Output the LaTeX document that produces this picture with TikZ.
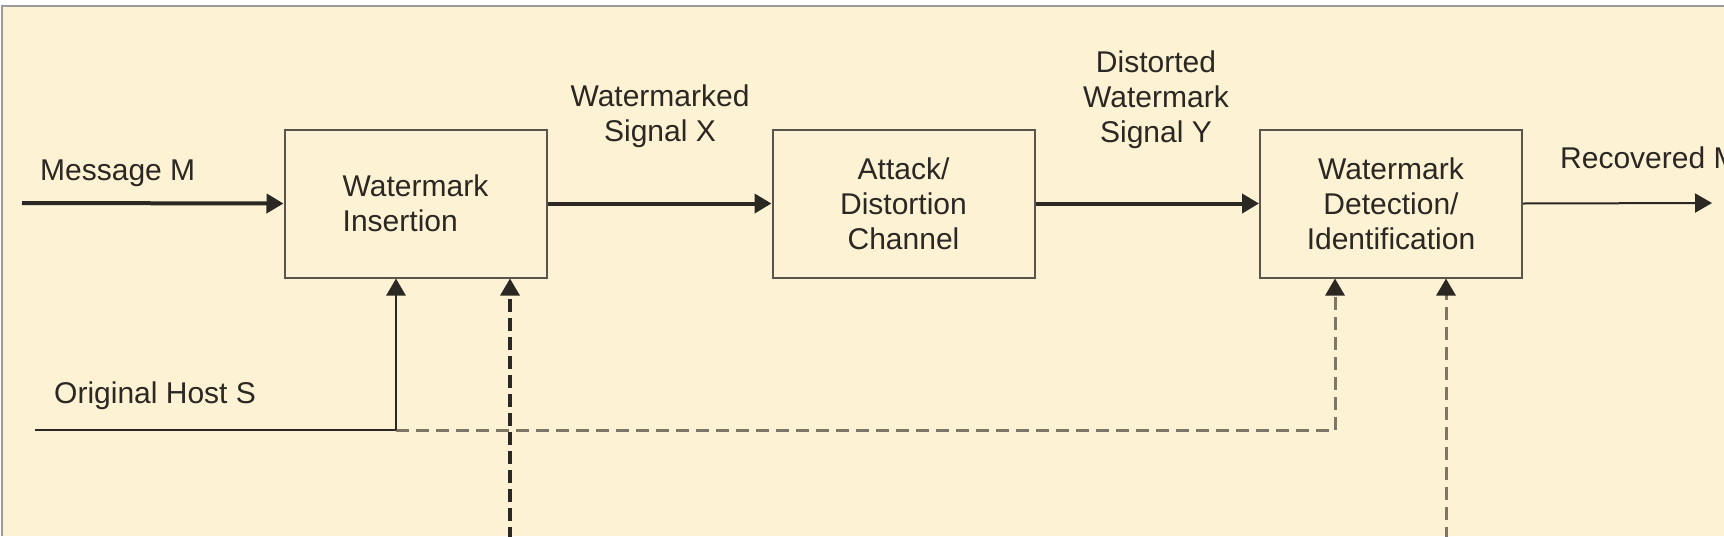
\documentclass[tikz,border=0pt]{standalone}
\usepackage{fontspec}
\setmainfont{Liberation Sans}
\usetikzlibrary{arrows.meta}
\definecolor{cream}{HTML}{FDF2D4}
\definecolor{ink}{HTML}{2B2722}
\definecolor{boxline}{HTML}{5A554C}
\definecolor{dgrey}{HTML}{7E7766}
\definecolor{frame}{HTML}{9A9A9A}
\tikzset{
  tip/.style={-{Triangle[length=17pt,width=19pt,color=ink]}},
  block/.style={draw=boxline, line width=2pt, minimum width=262pt, minimum height=148pt,
    inner sep=0pt, text=ink, font=\fontsize{30}{35}\selectfont},
  lbl/.style={inner sep=0pt, text=ink, font=\fontsize{30}{35}\selectfont},
  thickarrow/.style={tip, draw=ink, line width=4pt},
  thinarrow/.style={tip, draw=ink, line width=2pt},
  solidline/.style={draw=ink, line width=2pt},
  greydash/.style={draw=dgrey, line width=3pt, dash pattern=on 13pt off 7pt},
  darkdash/.style={draw=ink, line width=3.2pt, dash pattern=on 13pt off 6pt},
}
\begin{document}
\begin{tikzpicture}[x=1pt,y=-1pt]
\useasboundingbox (0,0) rectangle (1724,536);
\fill[white] (0,0) rectangle (1724,536);
\fill[cream] (2,6) rectangle (1724,536);
\draw[frame, line width=1.5pt] (2,536) -- (2,6) -- (1724,6);

\node[block, align=left] (ins) at (415.5,203.5) {Watermark\\Insertion};
\node[block, align=center] (att) at (903.5,203.5) {Attack/\\Distortion\\Channel};
\node[block, align=center] (det) at (1391,203.5) {Watermark\\Detection/\\Identification};

\node[lbl, anchor=base west] (msg) at (40,180) {Message M};
\node[lbl, align=center] (wsx) at (660,116) {Watermarked\\Signal X};
\node[lbl, align=center] (dwy) at (1156,100) {Distorted\\Watermark\\Signal Y};
\node[lbl, anchor=base west] (rec) at (1560,168) {Recovered M};
\node[lbl, anchor=base west] (host) at (54,403) {Original Host S};

\coordinate (msgstart) at (22,203);
\coordinate (outend) at (1712,203);
\coordinate (hoststart) at (35,430);
\coordinate (junction) at (396,430);
\coordinate (corner) at (1335,430);
\coordinate (bot1) at (510,540);
\coordinate (bot2) at (1446,540);

\draw[thickarrow] (msgstart) -- (ins.west);
\draw[thickarrow] (ins.east) -- (att.west);
\draw[thickarrow] (att.east) -- (det.west);
\draw[thinarrow] (det.east) -- (outend);

\draw[greydash] (junction) -- (corner);
\draw[greydash, tip] (corner) -- (corner |- det.south);
\draw[greydash, tip] (bot2) -- (bot2 |- det.south);
\draw[darkdash, tip] (bot1) -- (bot1 |- ins.south);
\draw[solidline] (hoststart) -- (junction);
\draw[solidline, line width=2.6pt, tip] (junction) -- (junction |- ins.south);
\end{tikzpicture}
\end{document}
